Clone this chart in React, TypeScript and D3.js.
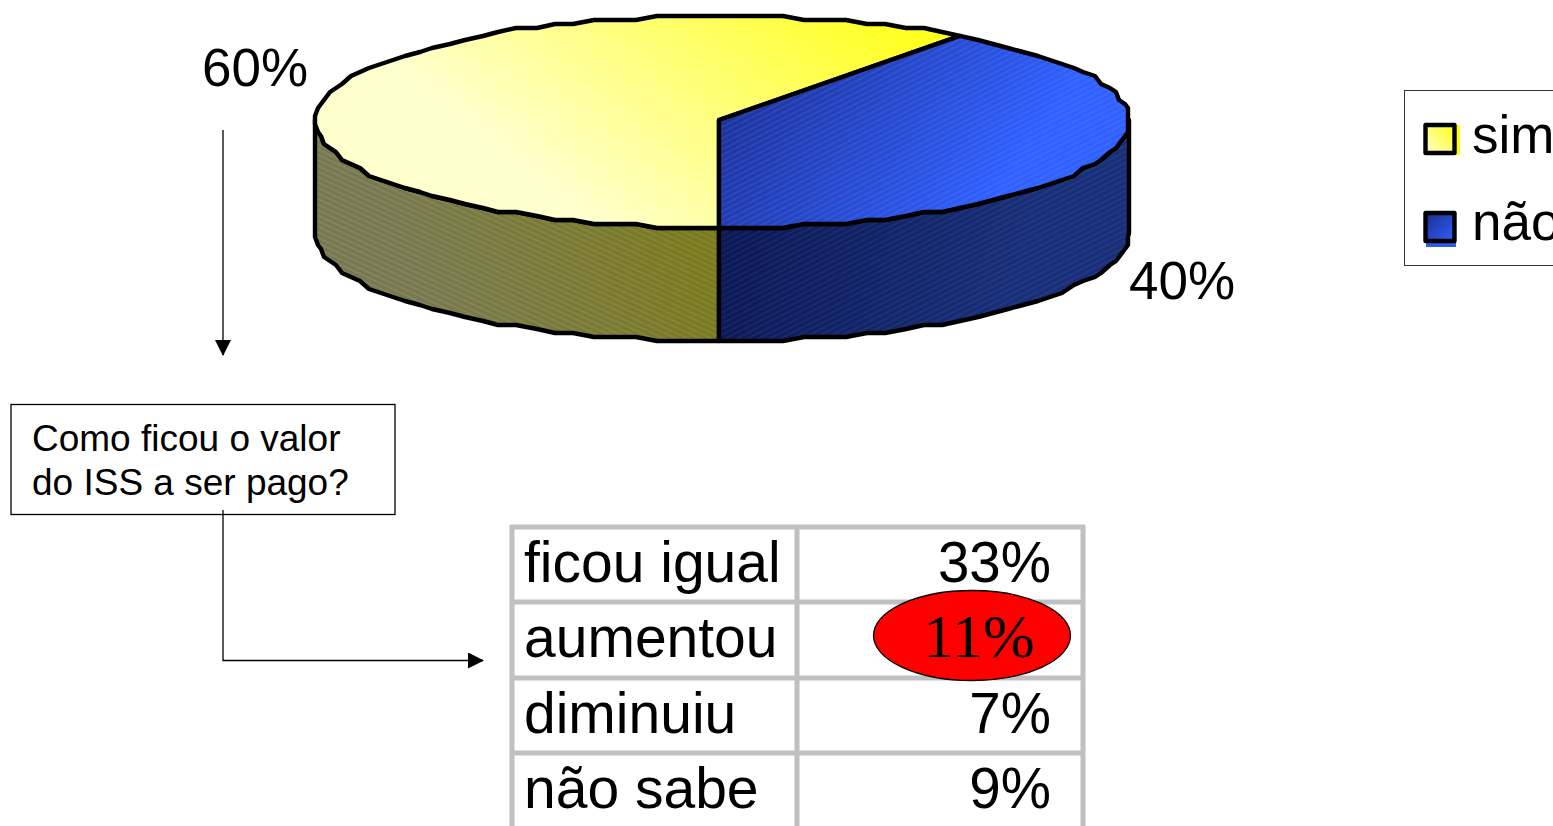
import React from "react";
import * as d3 from "d3";

const pieLabels = ["não", "sim"];
const pieValues = [40, 60];
const pieDisplay = ["40%", "60%"];
const legendLabels = ["sim", "não"];
const tableLabels = ["ficou igual", "aumentou", "diminuiu", "não sabe"];
const tableValues = ["33%", "11%", "7%", "9%"];
const calloutLines = ["Como ficou o valor", "do ISS a ser pago?"];

const W = 1553, H = 826;
const cx = 719, cy = 120, depth = 113;
const ARIAL = "'Liberation Sans', Arial, sans-serif";
const TIMES = "'Liberation Serif', 'Times New Roman', serif";

const rimX = d3.scaleLinear().domain([-1, 0, 1]).range([315, cx, 1129]);
const rimY = d3.scaleLinear().domain([-1, 0, 1]).range([16, cy, 228]);

// Printed outlines are stair-stepped, so every rim point snaps to a coarse grid.
const snap = (v: number, s: number) => Math.round(v / s) * s;
function rim(a0: number, a1: number, dy = 0): [number, number][] {
  const pts: [number, number][] = [];
  const n = Math.max(2, Math.round(Math.abs(a1 - a0) / (Math.PI / 60)));
  for (let i = 0; i <= n; i++) {
    const a = a0 + ((a1 - a0) * i) / n;
    const ends = i === 0 || i === n;
    const x = rimX(Math.sin(a));
    const y = rimY(-Math.cos(a));
    pts.push(ends ? [x, y + dy] : [snap(x, 3), snap(y, 4) + dy]);
  }
  return pts;
}
const line = d3.line<[number, number]>();

const slices = d3
  .pie<number>()
  .sort(null)
  .startAngle((36 * Math.PI) / 180)
  .endAngle((396 * Math.PI) / 180)(pieValues);

const HALF = Math.PI / 2;
const stroke = { stroke: "#000", strokeWidth: 4.4, strokeLinejoin: "round" as const };

function Hatch({ id, angle, color, op }: { id: string; angle: number; color: string; op: number }) {
  return (
    <pattern id={id} width={5} height={5} patternUnits="userSpaceOnUse" patternTransform={`rotate(${angle})`}>
      <line x1={0} x2={5} y1={1} y2={1} stroke={color} strokeOpacity={op} strokeWidth={0.8} />
    </pattern>
  );
}

function Slice({ index }: { index: number }) {
  const s = slices[index];
  const isBlue = index === 0;
  const a0 = s.startAngle, a1 = s.endAngle;
  const top: [number, number][] = [[cx, cy], ...rim(a0, a1)];
  const topPath = line(top) + "Z";
  const sideFrom = Math.max(a0, HALF);
  const sideTo = Math.min(a1, 3 * HALF);
  const upper = rim(sideFrom, sideTo);
  const lower = rim(sideFrom, sideTo, depth).reverse();
  const sidePath = line([...upper, ...lower]) + "Z";
  const fillTop = isBlue ? "url(#blueTop)" : "url(#yellowTop)";
  const fillSide = isBlue ? "url(#blueSide)" : "url(#yellowSide)";
  return (
    <g>
      <path d={sidePath} fill={fillSide} />
      <path d={sidePath} fill={isBlue ? "url(#hatchBlueSide)" : "url(#hatchYellowSide)"} {...stroke} />
      <path d={topPath} fill={fillTop} />
      <path d={topPath} fill={isBlue ? "url(#hatchBlueTop)" : "url(#hatchYellowTop)"} {...stroke} />
    </g>
  );
}

export default function App() {
  const rowBase = [582, 657, 733, 808];
  const tableX = [512, 797, 1083];
  return (
    <svg width={W} height={H} viewBox={`0 0 ${W} ${H}`} style={{ position: "absolute", left: 0, top: 0, background: "#fff" }}>
      <defs>
        <linearGradient id="yellowTop" gradientUnits="userSpaceOnUse" x1={860} y1={-10} x2={640} y2={260}>
          <stop offset="0" stopColor="#ffff1a" />
          <stop offset="1" stopColor="#ffffcc" />
        </linearGradient>
        <linearGradient id="blueTop" gradientUnits="userSpaceOnUse" x1={730} y1={50} x2={980} y2={220}>
          <stop offset="0" stopColor="#1a2d90" />
          <stop offset="1" stopColor="#3060ff" />
        </linearGradient>
        <linearGradient id="yellowSide" gradientUnits="userSpaceOnUse" x1={700} y1={230} x2={430} y2={330}>
          <stop offset="0" stopColor="#7a7a1c" />
          <stop offset="1" stopColor="#787850" />
        </linearGradient>
        <linearGradient id="blueSide" gradientUnits="userSpaceOnUse" x1={730} y1={240} x2={1000} y2={320}>
          <stop offset="0" stopColor="#0b1857" />
          <stop offset="1" stopColor="#172e78" />
        </linearGradient>
        <Hatch id="hatchYellowTop" angle={25} color="#fff" op={0.2} />
        <Hatch id="hatchBlueTop" angle={-27} color="#8aa4ff" op={0.3} />
        <Hatch id="hatchYellowSide" angle={25} color="#fff" op={0.2} />
        <Hatch id="hatchBlueSide" angle={-27} color="#fff" op={0.12} />
        <marker id="arrow" viewBox="0 0 16 16" refX={15} refY={8} markerWidth={16} markerHeight={16} markerUnits="userSpaceOnUse" orient="auto">
          <path d="M0,0L16,8L0,16Z" fill="#000" />
        </marker>
        <linearGradient id="keyY" x1="1" y1="0" x2="0" y2="1">
          <stop offset="0" stopColor="#ffff1a" />
          <stop offset="1" stopColor="#ffffcc" />
        </linearGradient>
        <linearGradient id="keyB" x1="0" y1="0" x2="1" y2="1">
          <stop offset="0" stopColor="#1a2c8c" />
          <stop offset="1" stopColor="#3060ff" />
        </linearGradient>
      </defs>

      {/* pie */}
      <g>
        <Slice index={1} />
        <Slice index={0} />
      </g>
      <text x={202} y={86} fontFamily={ARIAL} fontSize={53}>{pieDisplay[1]}</text>
      <text x={1129} y={299} fontFamily={ARIAL} fontSize={53}>{pieDisplay[0]}</text>

      {/* legend */}
      <rect x={1404.5} y={90.5} width={170} height={175} fill="#fff" stroke="#333" strokeWidth={1} />
      {legendLabels.map((l, i) => {
        const y = [125, 213][i];
        return (
          <g key={l}>
            <rect x={i === 0 ? 1430 : 1426} y={i === 0 ? y : y + 4} width={30} height={30} fill={i === 0 ? "#ffff00" : "#2f5be8"} />
            <rect x={1425.5} y={y} width={29} height={28} fill={i === 0 ? "url(#keyY)" : "url(#keyB)"} {...stroke} />
            <text x={1472} y={[153, 240][i]} fontFamily={ARIAL} fontSize={53}>{l}</text>
          </g>
        );
      })}

      {/* arrows and callout */}
      <line x1={223} y1={130} x2={223} y2={355} stroke="#000" strokeWidth={1.3} markerEnd="url(#arrow)" />
      <path d="M223,510V660.5H483" fill="none" stroke="#000" strokeWidth={1.3} markerEnd="url(#arrow)" />
      <rect x={11} y={404.5} width={384} height={110} fill="none" stroke="#000" strokeWidth={1.3} />
      {calloutLines.map((t, i) => (
        <text key={t} x={32} y={451 + i * 44} fontFamily={ARIAL} fontSize={37}>{t}</text>
      ))}

      {/* table */}
      <g stroke="#c0c0c0" strokeWidth={5} fill="none">
        {[527, 602, 678, 753].map((y) => (
          <line key={y} x1={tableX[0] - 2} x2={tableX[2] + 2} y1={y} y2={y} />
        ))}
        {tableX.map((x) => (
          <line key={x} x1={x} x2={x} y1={525} y2={H} />
        ))}
      </g>
      {tableLabels.map((t, i) => (
        <text key={t} x={524} y={rowBase[i]} fontFamily={ARIAL} fontSize={57}>{t}</text>
      ))}
      <ellipse cx={972} cy={635.5} rx={98.5} ry={45} fill="#ff0000" stroke="#000" strokeWidth={1.3} />
      {tableValues.map((t, i) =>
        i === 1 ? (
          <text key={t} x={979} y={657} textAnchor="middle" fontFamily={TIMES} fontSize={62}>{t}</text>
        ) : (
          <text key={t} x={1051} y={rowBase[i]} textAnchor="end" fontFamily={ARIAL} fontSize={56.5}>{t}</text>
        )
      )}
    </svg>
  );
}
